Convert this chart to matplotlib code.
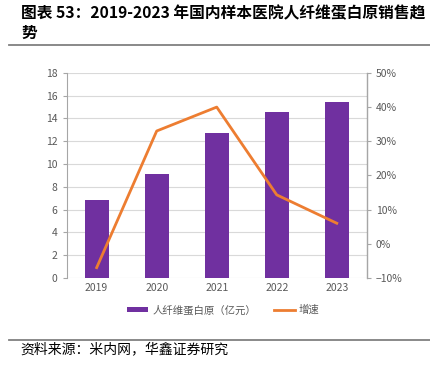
import matplotlib.pyplot as plt
from matplotlib.ticker import PercentFormatter

plt.rcParams['font.family'] = ['Noto Sans CJK SC', 'DejaVu Sans']

years = ['2019', '2020', '2021', '2022', '2023']
sales = [6.85, 9.1, 12.75, 14.6, 15.45]        # 亿元
growth = [-7.0, 33.0, 40.0, 14.3, 6.0]           # %

fig = plt.figure(figsize=(4.3, 3.74), dpi=100)

# title and rules
fig.text(0.049, 0.966, '图表 53：2019-2023 年国内样本医院人纤维蛋白原销售趋', fontsize=11.3,
         fontweight='bold', va='center', ha='left')
fig.text(0.049, 0.911, '势', fontsize=11.3, fontweight='bold', va='center', ha='left')
fig.add_artist(plt.Line2D([0.02, 1.0], [0.879, 0.879], color='#808080', lw=1.3))
fig.add_artist(plt.Line2D([0.02, 1.0], [0.091, 0.091], color='#808080', lw=1.3))
fig.text(0.047, 0.066, '资料来源：米内网，华鑫证券研究', fontsize=10, va='center', ha='left')

ax = fig.add_axes([0.155, 0.257, 0.698, 0.548])
x = range(len(years))
ax.bar(x, sales, width=0.4, color='#7030A0', label='人纤维蛋白原（亿元）', zorder=2)
ax.set_ylim(0, 18)
ax.set_yticks(range(0, 19, 2))
ax.set_xticks(list(x))
ax.set_xticklabels(years)
ax.set_xlim(-0.5, 4.5)
ax.grid(axis='y', color='#d9d9d9', lw=0.8, zorder=0)
for s in ['top', 'bottom']:
    ax.spines[s].set_visible(False)
ax.spines['left'].set_color('#a6a6a6')
ax.tick_params(axis='y', colors='#595959', labelsize=7.5, length=3, color='#a6a6a6')
ax.tick_params(axis='x', colors='#595959', labelsize=7.5, length=0)

ax2 = ax.twinx()
ax2.plot(x, growth, color='#ED7D31', lw=2, label='增速', zorder=3)
ax2.set_ylim(-10, 50)
ax2.set_yticks(range(-10, 51, 10))
ax2.yaxis.set_major_formatter(PercentFormatter(decimals=0))
for s in ['top', 'bottom', 'left']:
    ax2.spines[s].set_visible(False)
ax2.spines['right'].set_color('#a6a6a6')
ax2.tick_params(axis='y', colors='#595959', labelsize=7.5, length=3, color='#a6a6a6')

h1, l1 = ax.get_legend_handles_labels()
h2, l2 = ax2.get_legend_handles_labels()
fig.legend(h1 + h2, l1 + l2, loc='center', bbox_to_anchor=(0.52, 0.171), ncol=2,
           frameon=False, fontsize=7.5, handlelength=2.0, handleheight=0.5,
           handletextpad=0.4, columnspacing=1.7, labelcolor='#595959')

fig.savefig('out.png', dpi=100)
